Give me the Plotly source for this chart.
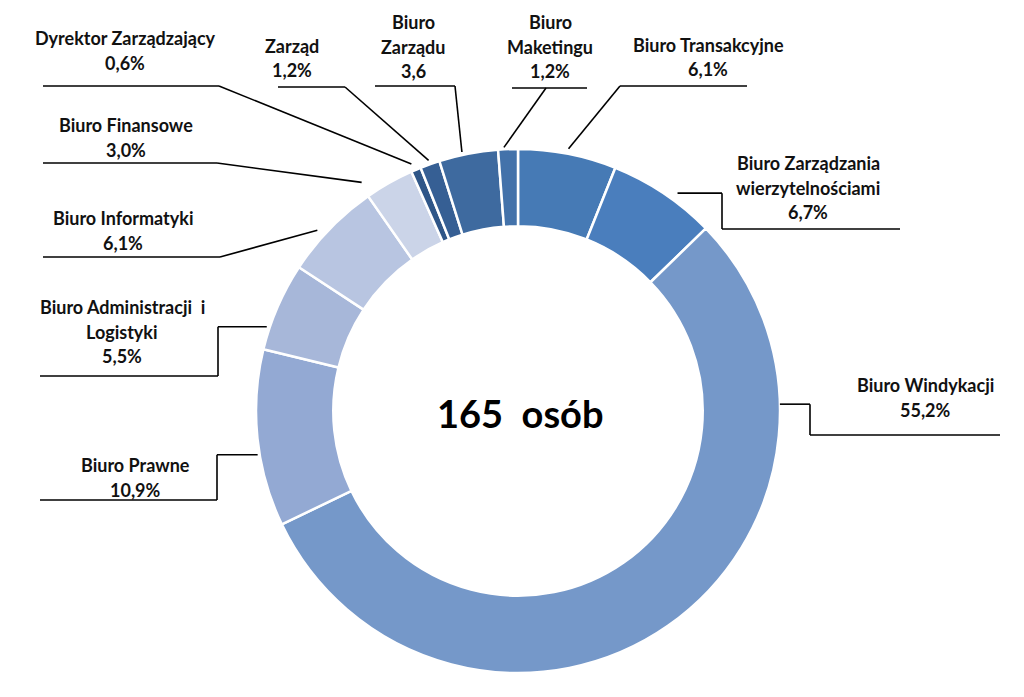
import math
import plotly.graph_objects as go

# ---- data ----
categories = [
    "Biuro Transakcyjne",
    "Biuro Zarządzania\nwierzytelnościami",
    "Biuro Windykacji",
    "Biuro Prawne",
    "Biuro Administracji  i\nLogistyki",
    "Biuro Informatyki",
    "Biuro Finansowe",
    "Dyrektor Zarządzający",
    "Zarząd",
    "Biuro\nZarządu",
    "Biuro\nMaketingu",
]
counts = [10, 11, 91, 18, 9, 10, 5, 1, 2, 6, 2]
pct_suffix = ["%", "%", "%", "%", "%", "%", "%", "%", "%", "", "%"]
colors = ["#467ab5", "#4a7ebd", "#7598c9", "#93a9d3", "#a7b7d9", "#b8c5e1",
          "#cbd4e8", "#2f5688", "#365f94", "#3e6a9f", "#4372aa"]
center_text = "165  osób"

# ---- layout (pixels, in screenshot coordinates) ----
OFF = 8  # page body margin
W, H = 1024 - OFF, 697 - OFF
CX, CY, R = 518, 411, 262
HOLE = 0.705

label_pos = [
    (708, 45), (808, 163), (925, 385), (135, 465), (122, 307), (123, 218),
    (126, 125), (125, 38), (292, 46), (413, 22), (550, 22),
]
underlines = [
    (620, 747, 86), (722, 900, 229), (810, 1000, 435), (40, 217, 500),
    (40, 218, 376), (43, 220, 257), (43, 217, 163), (43, 219, 86),
    (278, 345, 87), (375, 455, 86), (512, 587, 88),
]
leader_start = [
    ((620, 86), "d"), ((722, 229), "e"), ((810, 435), "e"), ((217, 500), "e"),
    ((218, 376), "e"), ((220, 257), "d"), ((217, 163), "d"), ((219, 86), "d"),
    ((345, 87), "d"), ((455, 86), "d"), ((546, 88), "d"),
]
anchor_frac = [0.5, 0.6, 0.215, 0.41, 0.25, 0.4, 0.05, 0.3, 0.5, 0.4, 0.3]
anchor_off = [5, 8, 0, 2, 3, 8, 15, 7, 4, 3, 2]
LINE_H = 24.5


def px(x):
    return (x - OFF) / W


def py(y):
    return 1 - (y - OFF) / H


fig = go.Figure(go.Pie(
    labels=[c.replace("\n", " ") for c in categories],
    values=counts,
    hole=HOLE,
    sort=False,
    direction="clockwise",
    rotation=0,
    marker=dict(colors=colors, line=dict(color="white", width=2.5)),
    textinfo="none",
    hoverinfo="label+percent",
    domain=dict(x=[px(CX - R), px(CX + R)], y=[py(CY + R), py(CY - R)]),
    showlegend=False,
))

total = sum(counts)
shapes = []
annotations = []
cum = 0
for i, (cat, v) in enumerate(zip(categories, counts)):
    frac_start = cum / total
    cum += v
    frac = frac_start + anchor_frac[i] * v / total
    ang = 2 * math.pi * frac
    rr = R + anchor_off[i]
    ax = CX + rr * math.sin(ang)
    ay = CY - rr * math.cos(ang)

    lines = cat.split("\n") + [f"{v / total * 100:.1f}".replace(".", ",") + pct_suffix[i]]
    lx, ly = label_pos[i]
    for k, t in enumerate(lines):
        annotations.append(dict(
            x=px(lx), y=py(ly + k * LINE_H), xref="paper", yref="paper",
            text=f"<b>{t}</b>", showarrow=False, xanchor="center", yanchor="middle",
            font=dict(family="Lato", size=18, color="#111111"),
        ))

    x0, x1, uy = underlines[i]
    (sx, sy), kind = leader_start[i]
    if kind == "d":
        pts = [(sx, sy), (ax, ay)]
    else:
        pts = [(sx, sy), (sx, ay), (ax, ay)]
    segs = [((x0, uy), (x1, uy))] + list(zip(pts[:-1], pts[1:]))
    for (p0, p1) in segs:
        shapes.append(dict(
            type="line", xref="paper", yref="paper",
            x0=px(p0[0]), y0=py(p0[1]), x1=px(p1[0]), y1=py(p1[1]),
            line=dict(color="black", width=1.6),
        ))

annotations.append(dict(
    x=px(CX + 2), y=py(CY + 2), xref="paper", yref="paper",
    text=f"<b>{center_text}</b>", showarrow=False, xanchor="center", yanchor="middle",
    font=dict(family="Lato", size=38, color="#000000"),
))

fig.update_layout(
    width=W, height=H,
    margin=dict(l=0, r=0, t=0, b=0),
    paper_bgcolor="white", plot_bgcolor="white",
    shapes=shapes, annotations=annotations,
)

fig.write_html("out.html")
